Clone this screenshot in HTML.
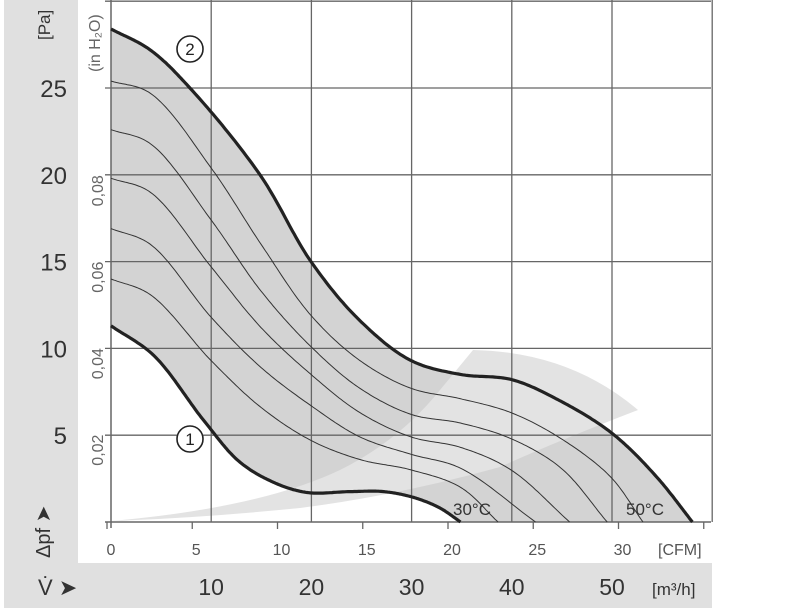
<!DOCTYPE html>
<html><head><meta charset="utf-8"><style>
body{margin:0;background:#fff}
svg{display:block;font-family:"Liberation Sans",sans-serif}
</style></head><body>
<svg width="800" height="612">
<rect x="4" y="0" width="74" height="608" fill="#e0e0e0"/>
<rect x="4" y="563" width="708" height="45" fill="#e0e0e0"/>
<g id="plot"></g>
</svg>
<script>
const cfmTicks=[0,5,10,15,20,25,30];
const m3hTicks=[10,20,30,40,50,60];
const paTicks=[5,10,15,20,25,30];
const inH2OTicks=["0,02","0,04","0,06","0,08"];
const inH2OPa=[4.98,9.96,14.94,19.92];
const curveMax=[[0,28.4],[2.29,27.2],[4.63,25.0],[8.74,20],[11.73,15],[14.6,11.6],[17.6,9.3],[20.5,8.5],[23.5,8.2],[26.3,7.0],[29.4,5.1],[32,2.6],[34.1,0]];
const curveMin=[[0,11.3],[2.5,9.6],[5.4,5.9],[7.5,3.5],[9.5,2.3],[11.5,1.7],[14,1.75],[16,1.75],[17.8,1.4],[19.3,0.8],[20.5,0]];
const lineA=[[0,25.4],[2.3,24.7],[5.87,20.4],[8.8,16.0],[11.73,11.9],[14.6,9.3],[17.6,7.7],[20.5,7.1],[23.46,6.3],[26.4,4.8],[29.3,2.6],[31.2,0]];
const lineB=[[0,22.6],[2.3,21.8],[5.87,17.4],[8.8,13.3],[11.73,10.1],[14.6,7.7],[17.6,6.2],[20.5,5.7],[23.46,4.8],[26.4,3.1],[29.1,0]];
const lineC=[[0,19.8],[2.3,19.0],[5.87,14.7],[8.8,11.2],[11.73,8.5],[14.6,6.3],[17.6,4.9],[20.5,4.3],[23.46,3.0],[26.9,0]];
const lineD=[[0,16.9],[2.3,16.0],[5.87,11.8],[8.8,8.9],[11.73,6.7],[14.6,4.9],[17.6,3.9],[20.5,3.1],[24.9,0]];
const lineE=[[0,14.0],[2.3,13.1],[5.87,9.3],[8.8,6.6],[11.73,4.7],[14.6,3.6],[17.6,3.0],[20.5,2.0],[22.7,0]];

const X=c=>111+17.05*c, Y=p=>522-17.36*p, XM=m=>111+10.02*m;
const NS="http://www.w3.org/2000/svg", g=document.getElementById('plot');
function mk(t,a,parent){const e=document.createElementNS(NS,t);for(const k in a)e.setAttribute(k,a[k]);(parent||g).appendChild(e);return e;}
function sample(pts){const P=pts.map(q=>[X(q[0]),Y(q[1])]);const n=P.length;
 const ext=[[2*P[0][0]-P[1][0],2*P[0][1]-P[1][1]]].concat(P,[[2*P[n-1][0]-P[n-2][0],2*P[n-1][1]-P[n-2][1]]]);
 const out=[];
 const dist=(a,b)=>Math.max(1e-4,Math.pow(Math.hypot(b[0]-a[0],b[1]-a[1]),0.5));
 for(let i=1;i<ext.length-2;i++){const p0=ext[i-1],p1=ext[i],p2=ext[i+1],p3=ext[i+2];
  const t0=0,t1=dist(p0,p1),t2=t1+dist(p1,p2),t3=t2+dist(p2,p3);
  for(let k=0;k<24;k++){const t=t1+(t2-t1)*k/24;const r=[];
   for(let j=0;j<2;j++){const A1=(t1-t)/(t1-t0)*p0[j]+(t-t0)/(t1-t0)*p1[j],A2=(t2-t)/(t2-t1)*p1[j]+(t-t1)/(t2-t1)*p2[j],A3=(t3-t)/(t3-t2)*p2[j]+(t-t2)/(t3-t2)*p3[j];
    const B1=(t2-t)/(t2-t0)*A1+(t-t0)/(t2-t0)*A2,B2=(t3-t)/(t3-t1)*A2+(t-t1)/(t3-t1)*A3;r.push((t2-t)/(t2-t1)*B1+(t-t1)/(t2-t1)*B2);}
   out.push(r);}}
 out.push(P[n-1]);return out;}
const toD=p=>"M"+p.map(q=>q[0].toFixed(1)+","+q[1].toFixed(1)).join(" L");

const sMax=sample(curveMax), sMin=sample(curveMin);
let fill=mk('path',{d:toD(sMax.concat(sMin.slice().reverse()))+" Z",fill:"#d3d3d3"});


let w=mk('path',{d:"M111,521 Q260,508 340,470 Q400,440 440,390 L473,350 Q570,352 638,410 Q560,440 500,467 Q400,495 300,508 Q200,518 111,521 Z",fill:"#e3e3e3"});



m3hTicks.forEach(m=>{const l=mk('line',{x1:XM(m),x2:XM(m),y1:0,y2:522,stroke:"#666","stroke-width":1.3});

});
paTicks.forEach(p=>{const l=mk('line',{x1:105,x2:711,y1:Y(p),y2:Y(p),stroke:"#666","stroke-width":1.3});

});
let ax=mk('line',{x1:105,x2:711,y1:522,y2:522,stroke:"#666","stroke-width":1.5});


let ay=mk('line',{x1:111,x2:111,y1:0,y2:528,stroke:"#666","stroke-width":1.5});


cfmTicks.concat([35]).forEach(c=>{const l=mk('line',{x1:X(c)-4,x2:X(c)-4,y1:522,y2:529,stroke:"#666","stroke-width":1.3});

});

[["curve-line-a",lineA],["curve-line-b",lineB],["curve-line-c",lineC],["curve-line-d",lineD],["curve-line-e",lineE]].forEach(([n,d])=>{
const l=mk('path',{d:toD(sample(d)),fill:"none",stroke:"#333","stroke-width":1});

});
let c2=mk('path',{d:toD(sMax),fill:"none",stroke:"#222","stroke-width":3.2,"stroke-linejoin":"round"});


let c1=mk('path',{d:toD(sMin),fill:"none",stroke:"#222","stroke-width":3.2,"stroke-linejoin":"round"});



function txt(s,a,name){const t=mk('text',a);t.textContent=s;return t;}
[["2",190,49],["1",190,439]].forEach(([s,x,y])=>{const c=mk('circle',{cx:x,cy:y,r:13,fill:"#fff",stroke:"#222","stroke-width":1.6});


txt(s,{x:x,y:y+6,"font-size":17,"text-anchor":"middle",fill:"#222"},'curve-marker-label-'+s);});
txt("30°C",{x:453,y:515,"font-size":17,fill:"#333"},'label-30c');
txt("50°C",{x:626,y:515,"font-size":17,fill:"#333"},'label-50c');

paTicks.slice(0,5).forEach(p=>txt(String(p),{x:67,y:Y(p)+9,"font-size":24,"text-anchor":"end",fill:"#333"},'y-tick-pa'));
inH2OTicks.forEach((s,i)=>txt(s,{transform:`translate(103,${Y(inH2OPa[i])-1}) rotate(-90)`,"font-size":16,"text-anchor":"end",fill:"#666"},'y-tick-inh2o'));
txt("[Pa]",{transform:"translate(50,40) rotate(-90)","font-size":17,fill:"#333"},'y-unit-pa');
txt("(in H₂O)",{transform:"translate(100,72) rotate(-90)","font-size":16,fill:"#666"},'y-unit-inh2o');
txt("Δpf ➤",{transform:"translate(50,558) rotate(-90)","font-size":20,fill:"#333"},'y-axis-title');
cfmTicks.forEach(c=>txt(String(c),{x:X(c),y:555,"font-size":16,"text-anchor":"middle",fill:"#555"},'x-tick-cfm'));
txt("[CFM]",{x:658,y:555,"font-size":16,fill:"#555"},'x-unit-cfm');
m3hTicks.slice(0,5).forEach(m=>txt(String(m),{x:XM(m),y:595,"font-size":23,"text-anchor":"middle",fill:"#333"},'x-tick-m3h'));
txt("[m³/h]",{x:652,y:595,"font-size":17,fill:"#333"},'x-unit-m3h');
txt("V̇ ➤",{x:38,y:595,"font-size":22,fill:"#333"},'x-axis-title');
</script>
</body></html>
